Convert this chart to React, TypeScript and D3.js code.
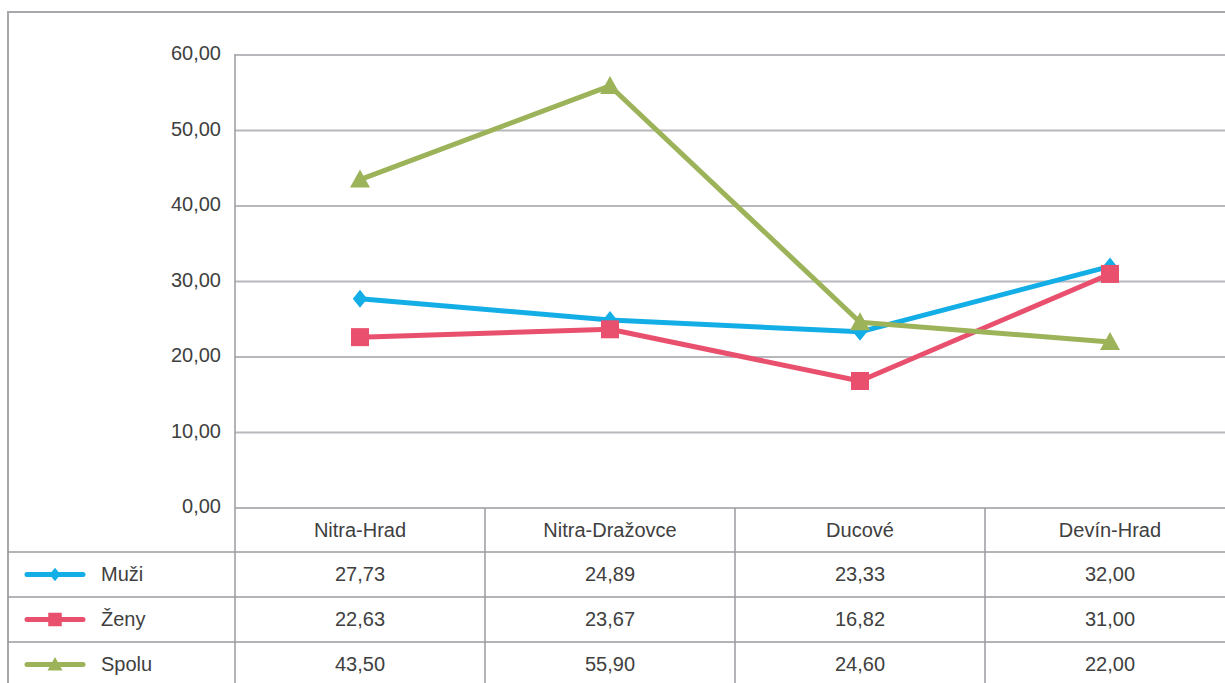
import React from "react";
import * as d3 from "d3";

const categories = ["Nitra-Hrad", "Nitra-Dražovce", "Ducové", "Devín-Hrad"];
const muzi = [27.73, 24.89, 23.33, 32.0];
const zeny = [22.63, 23.67, 16.82, 31.0];
const spolu = [43.5, 55.9, 24.6, 22.0];
const yTicks = [0, 10, 20, 30, 40, 50, 60];

const seriesList = [
  { name: "Muži", values: muzi, color: "#14aee6", marker: "diamond" },
  { name: "Ženy", values: zeny, color: "#e8506e", marker: "square" },
  { name: "Spolu", values: spolu, color: "#9db35a", marker: "triangle" },
];

const W = 1225;
const H = 683;
const plotLeft = 235;
const plotRight = 1235;
const plotTop = 55;
const plotBottom = 508;
const rowH = 45;
const font = "Liberation Sans, Arial, sans-serif";
const fs = 20;

const fmt = (v: number) => v.toFixed(2).replace(".", ",");

function Marker({ type, x, y, color, s = 1 }: { type: string; x: number; y: number; color: string; s?: number }) {
  if (type === "diamond") {
    const r = 9 * s;
    return <path d={`M${x},${y - r}L${x + r * 0.8},${y}L${x},${y + r}L${x - r * 0.8},${y}Z`} fill={color} />;
  }
  if (type === "square") {
    const r = 9 * s;
    return <rect x={x - r} y={y - r} width={2 * r} height={2 * r} fill={color} />;
  }
  const r = 10 * s;
  return <path d={`M${x},${y - r}L${x + r},${y + r * 0.8}L${x - r},${y + r * 0.8}Z`} fill={color} />;
}

export default function App() {
  const x = d3.scaleBand<string>().domain(categories).range([plotLeft, plotRight]);
  const y = d3.scaleLinear().domain([0, 60]).range([plotBottom, plotTop]);
  const cx = (c: string) => (x(c) as number) + x.bandwidth() / 2;
  const line = d3
    .line<number>()
    .x((_, i) => cx(categories[i]))
    .y((d) => y(d));

  const gridColor = "#b8b8bc";
  const tableColor = "#9a9aa0";
  const rowsTop = plotBottom + rowH - 1;
  const textColor = "#404040";

  return (
    <svg
      width={W}
      height={H}
      style={{ position: "absolute", left: 0, top: 0, background: "#fff" }}
      fontFamily={font}
    >
      <rect x={8} y={12} width={W + 20} height={H + 20} fill="#fff" stroke="#a8a8ac" strokeWidth={2} />
      {yTicks.map((t) => (
        <g key={t}>
          {t > 0 && (
            <line x1={plotLeft} x2={plotRight} y1={y(t)} y2={y(t)} stroke={gridColor} strokeWidth={2} />
          )}
          <text x={221} y={y(t)} textAnchor="end" dominantBaseline="middle" fontSize={fs} fill={textColor}>
            {fmt(t)}
          </text>
        </g>
      ))}
      <line x1={plotLeft} x2={plotLeft} y1={plotTop - 1} y2={H + 10} stroke={tableColor} strokeWidth={1.5} />
      <line x1={plotLeft} x2={plotRight} y1={plotBottom} y2={plotBottom} stroke={tableColor} strokeWidth={1.5} />
      {seriesList.map((_, i) => (
        <line
          key={i}
          x1={8}
          x2={plotRight}
          y1={rowsTop + i * rowH}
          y2={rowsTop + i * rowH}
          stroke={tableColor}
          strokeWidth={1.5}
        />
      ))}
      {categories.slice(1).map((c) => (
        <line key={c} x1={x(c) as number} x2={x(c) as number} y1={plotBottom} y2={H + 10} stroke={tableColor} strokeWidth={1.5} />
      ))}
      {categories.map((c) => (
        <text key={c} x={cx(c)} y={plotBottom + rowH / 2 + 1} textAnchor="middle" dominantBaseline="middle" fontSize={fs} fill={textColor}>
          {c}
        </text>
      ))}
      {seriesList.map((s, i) => {
        const yy = rowsTop + i * rowH + rowH / 2;
        return (
          <g key={s.name}>
            <line x1={27} x2={83} y1={yy} y2={yy} stroke={s.color} strokeWidth={5} strokeLinecap="round" />
            <Marker type={s.marker} x={55} y={yy} color={s.color} s={0.75} />
            <text x={101} y={yy + 1} dominantBaseline="middle" fontSize={fs} fill={textColor}>
              {s.name}
            </text>
            {s.values.map((v, j) => (
              <text key={j} x={cx(categories[j])} y={yy + 1} textAnchor="middle" dominantBaseline="middle" fontSize={fs} fill={textColor}>
                {fmt(v)}
              </text>
            ))}
          </g>
        );
      })}
      {seriesList.map((s) => (
        <g key={s.name}>
          <path d={line(s.values) || ""} fill="none" stroke={s.color} strokeWidth={5} strokeLinejoin="round" />
          {s.values.map((v, j) => (
            <Marker key={j} type={s.marker} x={cx(categories[j])} y={y(v)} color={s.color} />
          ))}
        </g>
      ))}
    </svg>
  );
}
